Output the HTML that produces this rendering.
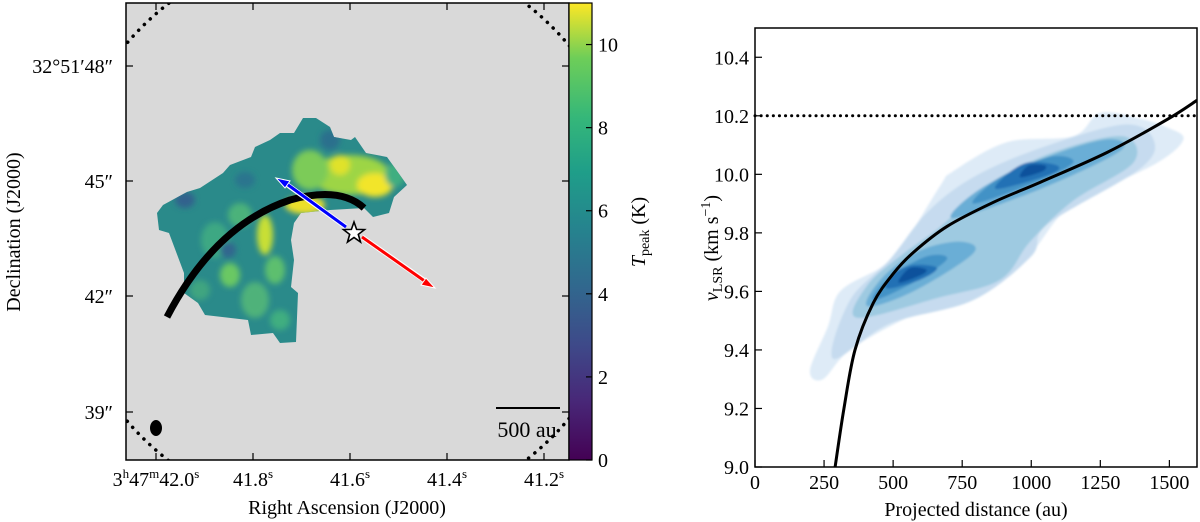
<!DOCTYPE html>
<html><head><meta charset="utf-8"><style>
html,body{margin:0;padding:0;background:#fff;}
svg{display:block;font-family:"Liberation Serif",serif;}
</style></head><body>
<svg id="fig" width="1200" height="522" viewBox="0 0 1200 522">
<defs>
<linearGradient id="viridis" x1="0" y1="1" x2="0" y2="0">
<stop offset="0" stop-color="#440154"/><stop offset="0.13" stop-color="#482878"/><stop offset="0.25" stop-color="#3e4989"/><stop offset="0.38" stop-color="#31688e"/><stop offset="0.5" stop-color="#26828e"/><stop offset="0.63" stop-color="#1f9e89"/><stop offset="0.75" stop-color="#35b779"/><stop offset="0.88" stop-color="#6ece58"/><stop offset="1" stop-color="#fde725"/>
</linearGradient>
<clipPath id="mapclip"><rect x="126" y="3" width="443" height="457"/></clipPath>
<clipPath id="cloudclip"><path d="M157,213 L163,205 L187,192 L200,188 L223,173 L230,165 L251,157 L255,147 L270,140 L280,133 L294,133 L303,118 L316,118 L330,127 L334,137 L351,140 L355,137 L366,153 L387,157 L407,185 L394,197 L389,213 L373,217 L364,208 L330,210 L301,213 L294,223 L291,240 L294,260 L291,287 L298,293 L296,342 L280,343 L273,333 L251,335 L248,320 L205,315 L198,303 L184,293 L184,273 L169,233 L159,230 Z"/></clipPath>
<filter id="blur4"><feGaussianBlur stdDeviation="3"/></filter>
<filter id="blur2"><feGaussianBlur stdDeviation="1"/></filter>
<clipPath id="rclip"><rect x="755" y="28" width="442" height="439"/></clipPath>
</defs>

<g>
<rect x="126" y="3" width="443" height="457" fill="#d9d9d9"/>
<g clip-path="url(#cloudclip)">
<rect x="150" y="110" width="265" height="240" fill="#2a8a8a"/>
<g filter="url(#blur4)">
<ellipse cx="215" cy="240" rx="14" ry="18" fill="#3ea883"/>
<ellipse cx="240" cy="215" rx="12" ry="12" fill="#4bb27a"/>
<ellipse cx="255" cy="300" rx="14" ry="18" fill="#4fb27a"/>
<ellipse cx="230" cy="275" rx="10" ry="12" fill="#6bc864"/>
<ellipse cx="275" cy="270" rx="10" ry="14" fill="#5dbf6e"/>
<ellipse cx="200" cy="290" rx="10" ry="10" fill="#41a580"/>
<ellipse cx="350" cy="175" rx="40" ry="20" fill="#9dd544"/>
<ellipse cx="375" cy="185" rx="18" ry="12" fill="#f2e52a"/>
<ellipse cx="340" cy="165" rx="10" ry="10" fill="#e0e22c"/>
<ellipse cx="310" cy="170" rx="18" ry="20" fill="#7ccb58"/>
<ellipse cx="305" cy="205" rx="20" ry="9" fill="#ecdf2a"/>
<ellipse cx="265" cy="235" rx="8" ry="20" fill="#c8df35"/>
<ellipse cx="330" cy="140" rx="10" ry="10" fill="#2c6f8d"/>
<ellipse cx="185" cy="200" rx="10" ry="8" fill="#33628d"/>
<ellipse cx="228" cy="250" rx="8" ry="8" fill="#31668e"/>
<ellipse cx="245" cy="180" rx="10" ry="8" fill="#2b748e"/>
<ellipse cx="395" cy="175" rx="10" ry="12" fill="#3fae80"/>
<ellipse cx="280" cy="320" rx="10" ry="10" fill="#3fae80"/>
</g>
</g>
<g clip-path="url(#mapclip)">
<circle cx="347" cy="232" r="290" fill="none" stroke="#000" stroke-width="3.5" stroke-linecap="round" stroke-dasharray="0.1 8"/>
</g>
<path d="M167,317 Q215,225 290,200 Q340,186 364,208" fill="none" stroke="#000" stroke-width="7"/>
<g>
<line x1="346" y1="227" x2="282" y2="181" stroke="#fff" stroke-width="5"/>
<line x1="346" y1="227" x2="284" y2="182" stroke="#0000ff" stroke-width="3"/>
<polygon points="276,178 290,181 285,188" fill="#0000ff" stroke="#fff" stroke-width="1"/>
</g>
<g>
<line x1="362" y1="237" x2="428" y2="283" stroke="#fff" stroke-width="5"/>
<line x1="362" y1="237" x2="426" y2="282" stroke="#ff0000" stroke-width="3"/>
<polygon points="435,288 421,285 426,278" fill="#ff0000" stroke="#fff" stroke-width="1"/>
</g>
<polygon points="354,222 356.6,229.4 364.5,229.6 358.3,234.4 360.5,242 354,237.5 347.5,242 349.7,234.4 343.5,229.6 351.4,229.4" fill="#fff" stroke="#000" stroke-width="1.6"/>
<ellipse cx="156" cy="428" rx="6" ry="8" fill="#000"/>
<line x1="496" y1="408" x2="560" y2="408" stroke="#000" stroke-width="2"/>
<text x="527" y="437" font-size="22" text-anchor="middle">500 au</text>
<rect x="126" y="3" width="443" height="457" fill="none" stroke="#000" stroke-width="1.5"/>
</g>
<g id="leftticks"></g>

<rect x="569" y="3" width="23" height="457" fill="url(#viridis)" stroke="#000" stroke-width="1.2"/>
<g id="cbticks"></g>
<text transform="translate(645,232) rotate(-90)" font-size="20" text-anchor="middle"><tspan font-style="italic">T</tspan><tspan font-size="14" dy="4">peak</tspan><tspan dy="-4"> (K)</tspan></text>

<text x="347" y="514" font-size="20" text-anchor="middle">Right Ascension (J2000)</text>
<text transform="translate(20,232) rotate(-90)" font-size="20" text-anchor="middle">Declination (J2000)</text>

<g id="kde" clip-path="url(#rclip)"></g>
<g id="rplot"></g>
<text x="976" y="516" font-size="20" text-anchor="middle">Projected distance (au)</text>
<text transform="translate(718,248) rotate(-90)" font-size="20" text-anchor="middle"><tspan font-style="italic">v</tspan><tspan font-size="14" dy="4">LSR</tspan><tspan dy="-4"> (km s</tspan><tspan font-size="14" dy="-8">−1</tspan><tspan dy="8">)</tspan></text>
</svg>
<script>
const decTicks=[66,181,296,412];
const decLabels=["32°51′48″","45″","42″","39″"];
const raTickVals=[42.0,41.8,41.6,41.4,41.2];
const raLabels=["41.8","41.6","41.4","41.2"];
const cbTicks=[0,2,4,6,8,10];
const modelDist=[290,322,362,428,500,573,695,862,1033,1275,1493,1600];
const modelVel=[9.0,9.2,9.4,9.56,9.66,9.733,9.822,9.904,9.973,10.075,10.188,10.253];
const xTicks=[0,250,500,750,1000,1250,1500];
const yTicks=[9.0,9.2,9.4,9.6,9.8,10.0,10.2,10.4];
const refVel=10.2;
const kdeColors=["#deebf7","#c6dbef","#9ecae1","#6baed6","#4292c6","#2171b5","#08519c"];
const kdeL1=[[199,9.33],[246,9.30],[344,9.40],[551,9.51],[790,9.60],[971,9.70],[1105,9.86],[1214,9.93],[1457,10.04],[1551,10.12],[1493,10.16],[1395,10.19],[1250,10.21],[1152,10.13],[913,10.11],[717,10.01],[670,9.96],[525,9.74],[453,9.68],[308,9.60],[264,9.48]];
const kdeL2=[[283,9.37],[489,9.49],[790,9.57],[1000,9.72],[1060,9.83],[1395,10.02],[1442,10.12],[1333,10.17],[1033,10.09],[790,9.99],[623,9.87],[489,9.71],[344,9.57]];
const kdeL3=[[370,9.51],[670,9.58],[888,9.64],[996,9.77],[1152,9.91],[1370,10.04],[1333,10.13],[1094,10.08],[851,9.97],[670,9.82],[525,9.72],[406,9.62]];
const kdeL4a=[[406,9.55],[573,9.60],[790,9.73],[743,9.77],[598,9.74],[464,9.65]];
const kdeL4b=[[717,9.85],[1033,9.95],[1322,10.08],[1275,10.12],[1058,10.06],[815,9.95]];
const kdeL5a=[[428,9.57],[573,9.63],[695,9.71],[623,9.72],[489,9.65]];
const kdeL5b=[[790,9.90],[1007,9.97],[1152,10.04],[1069,10.06],[888,9.99]];
const kdeL6a=[[478,9.61],[598,9.64],[659,9.68],[573,9.69],[500,9.66]];
const kdeL6b=[[880,9.95],[1069,10.00],[1094,10.03],[986,10.04],[900,9.99]];
const kdeL7a=[[520,9.63],[600,9.655],[620,9.675],[560,9.68]];
const kdeL7b=[[960,9.99],[1040,10.01],[1050,10.03],[990,10.03]];
const kdeLevels=[[kdeL1,0],[kdeL2,1],[kdeL3,2],[kdeL4a,3],[kdeL4b,3],[kdeL5a,4],[kdeL5b,4],[kdeL6a,5],[kdeL6b,5],[kdeL7a,6],[kdeL7b,6]];

const NS="http://www.w3.org/2000/svg";
function mk(tag,attrs,parent){const e=document.createElementNS(NS,tag);for(const k in attrs)e.setAttribute(k,attrs[k]);parent.appendChild(e);return e;}
const X0=755,X1=1197,Y0=467,Y1=28;
const xs=d=>X0+(d-0)/(1600-0)*(X1-X0);
const ys=v=>Y0-(v-9.0)/(10.5-9.0)*(Y0-Y1);
const raX=s=>156+(42.0-s)/0.2*97;
const cbY=t=>460-t/11*457;

function smooth(pts){const n=pts.length;let d="";for(let i=0;i<n;i++){const p0=pts[(i-1+n)%n],p1=pts[i],p2=pts[(i+1)%n],p3=pts[(i+2)%n];if(i===0)d+="M"+p1[0]+","+p1[1];const c1=[p1[0]+(p2[0]-p0[0])/6,p1[1]+(p2[1]-p0[1])/6],c2=[p2[0]-(p3[0]-p1[0])/6,p2[1]-(p3[1]-p1[1])/6];d+=" C"+c1[0]+","+c1[1]+" "+c2[0]+","+c2[1]+" "+p2[0]+","+p2[1];}return d+"Z";}
function smoothOpen(pts){const n=pts.length;let d="M"+pts[0][0]+","+pts[0][1];for(let i=0;i<n-1;i++){const p0=pts[Math.max(i-1,0)],p1=pts[i],p2=pts[i+1],p3=pts[Math.min(i+2,n-1)];const c1=[p1[0]+(p2[0]-p0[0])/6,p1[1]+(p2[1]-p0[1])/6],c2=[p2[0]-(p3[0]-p1[0])/6,p2[1]-(p3[1]-p1[1])/6];d+=" C"+c1[0]+","+c1[1]+" "+c2[0]+","+c2[1]+" "+p2[0]+","+p2[1];}return d;}

const lt=document.getElementById('leftticks');
decTicks.forEach((y,i)=>{
  const t=mk('line',{x1:126,x2:133,y1:y,y2:y,stroke:'#000','stroke-width':1.2},lt);
  
  
  const t2=mk('line',{x1:562,x2:569,y1:y,y2:y,stroke:'#000','stroke-width':1.2},lt);
  
  
  const tx=mk('text',{x:113,y:y+7,'font-size':20,'text-anchor':'end'},lt);
  tx.textContent=decLabels[i];
  
  
});
raTickVals.forEach((s,i)=>{
  const x=raX(s);
  const t=mk('line',{x1:x,x2:x,y1:460,y2:453,stroke:'#000','stroke-width':1.2},lt);
  
  
  const t2=mk('line',{x1:x,x2:x,y1:3,y2:10,stroke:'#000','stroke-width':1.2},lt);
  
  
});
(function(){
  const tx=mk('text',{x:raX(42.0),y:486,'font-size':20,'text-anchor':'middle'},lt);
  tx.innerHTML='3<tspan font-size="13" dy="-8">h</tspan><tspan dy="8">47</tspan><tspan font-size="13" dy="-8">m</tspan><tspan dy="8">42.0</tspan><tspan font-size="13" dy="-8">s</tspan>';
  
  
  raLabels.forEach((l,i)=>{
    const t=mk('text',{x:raX(raTickVals[i+1]),y:486,'font-size':20,'text-anchor':'middle'},lt);
    t.innerHTML=l+'<tspan font-size="13" dy="-8">s</tspan>';
    
    
  });
})();
const cb=document.getElementById('cbticks');
cbTicks.forEach(v=>{
  const y=cbY(v);
  const t=mk('line',{x1:592,x2:586,y1:y,y2:y,stroke:'#000','stroke-width':1.2},cb);
  
  
  const tx=mk('text',{x:598,y:y+7,'font-size':20},cb);
  tx.textContent=v;
  
  
});

const kg=document.getElementById('kde');
const kf=mk('g',{filter:'url(#blur2)'},kg);
kdeLevels.forEach(([pts,ci])=>{
  const p=mk('path',{d:smooth(pts.map(q=>[xs(q[0]),ys(q[1])])),fill:kdeColors[ci]},kf);
  
  
});
const rp=document.getElementById('rplot');
const ref=mk('line',{x1:X0,x2:X1,y1:ys(refVel),y2:ys(refVel),stroke:'#000','stroke-width':3,'stroke-dasharray':'0.1 6','stroke-linecap':'round'},rp);


const ml=mk('path',{d:smoothOpen(modelDist.map((m,i)=>[xs(m),ys(modelVel[i])])),fill:'none',stroke:'#000','stroke-width':3,'clip-path':'url(#rclip)'},rp);


const fr=mk('rect',{x:X0,y:Y1,width:X1-X0,height:Y0-Y1,fill:'none',stroke:'#000','stroke-width':1.5},rp);


xTicks.forEach(v=>{
  const x=xs(v);
  const t=mk('line',{x1:x,x2:x,y1:Y0,y2:Y0-7,stroke:'#000','stroke-width':1.2},rp);
  
  
  const tx=mk('text',{x:x,y:489,'font-size':20,'text-anchor':'middle'},rp);
  tx.textContent=v;
  
  
});
yTicks.forEach(v=>{
  const y=ys(v);
  const t=mk('line',{x1:X0,x2:X0+7,y1:y,y2:y,stroke:'#000','stroke-width':1.2},rp);
  
  
  const tx=mk('text',{x:749,y:y+7,'font-size':20,'text-anchor':'end'},rp);
  tx.textContent=v.toFixed(1);
  
  
});
</script>
</body></html>
